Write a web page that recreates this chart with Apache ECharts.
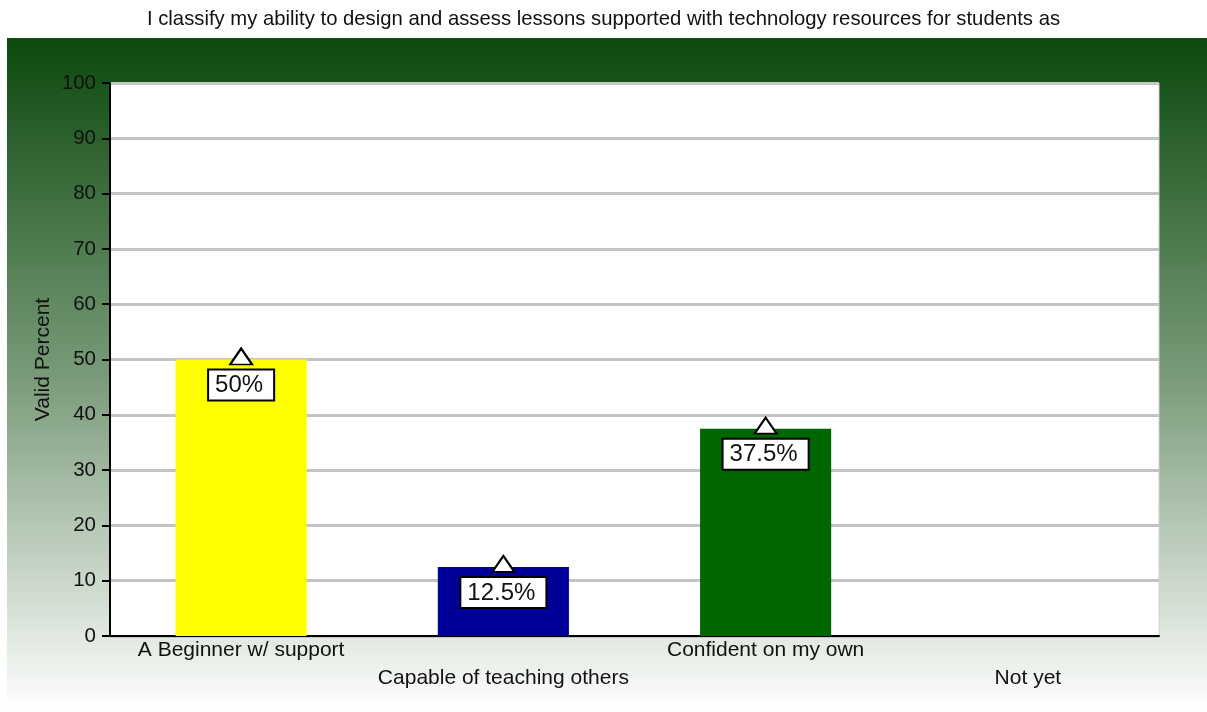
<!DOCTYPE html>
<html>
<head>
<meta charset="utf-8">
<script src="https://cdn.jsdelivr.net/npm/echarts@6/dist/echarts.min.js"></script>
<style>html,body{margin:0;padding:0;background:#fff;}#c{width:1207px;height:712px;}</style>
</head>
<body>
<div id="c"></div>
<script>
const titleText = "I classify my ability to design and assess lessons supported with technology resources for students as";
const categories = ["A Beginner w/ support", "Capable of teaching others", "Confident on my own", "Not yet"];
const values = [50, 12.5, 37.5, 0];
const barColors = ["#ffff00", "#000099", "#006600", "#888888"];
const yTicks = [0, 10, 20, 30, 40, 50, 60, 70, 80, 90, 100];
const yName = "Valid Percent";

const chart = echarts.init(document.getElementById('c'));
const font = "'Liberation Sans', Arial, sans-serif";
chart.setOption({
  animation: false,
  backgroundColor: '#ffffff',
  title: {
    text: titleText, left: 'center', top: 4,
    textStyle: { fontFamily: font, fontSize: 20.3, fontWeight: 'normal', color: '#111' }
  },
  graphic: [{
    type: 'rect', silent: true, z: -10,
    shape: { x: 7, y: 38, width: 1200, height: 674 },
    style: {
      fill: new echarts.graphic.LinearGradient(0, 0, 0, 1, [
        { offset: 0, color: '#0b490d' },
        { offset: 0.5, color: '#799a79' },
        { offset: 1, color: '#ffffff' }
      ])
    }
  }],
  grid: {
    left: 110, right: 48, top: 83, bottom: 76,
    show: true, backgroundColor: '#ffffff', borderWidth: 1, borderColor: '#d0d0d0'
  },
  xAxis: {
    type: 'category', data: categories,
    axisLine: { lineStyle: { color: '#000', width: 2 } },
    axisTick: { show: false },
    axisLabel: {
      interval: 0, margin: 0, fontFamily: font, fontSize: 21, color: '#111', lineHeight: 28,
      formatter: (v, i) => (i % 2 === 1 ? '\n' + v : v)
    }
  },
  yAxis: {
    type: 'value', min: yTicks[0], max: yTicks[yTicks.length - 1], interval: 10,
    name: yName, nameLocation: 'middle', nameGap: 56, nameMoveOverlap: false,
    nameTextStyle: { fontFamily: font, fontSize: 21, color: '#111' },
    axisLine: { show: true, lineStyle: { color: '#000', width: 2 } },
    axisTick: { show: true, length: 8, lineStyle: { color: '#000', width: 2 } },
    axisLabel: { fontFamily: font, fontSize: 20.5, color: '#111', margin: 14 },
    splitLine: { lineStyle: { color: '#c4c4c4', width: 3 } }
  },
  series: [{
    type: 'bar', barWidth: '50%',
    data: values.map((v, i) => ({ value: v, itemStyle: { color: barColors[i] }, label: { show: v > 0 } })),
    label: {
      show: true, position: 'insideTop', distance: 11,
      formatter: p => p.value + '%',
      fontFamily: font, fontSize: 24, color: '#111',
      backgroundColor: '#ffffff', borderColor: '#000', borderWidth: 2,
      padding: [3, 10, 2, 6]
    }
  }, {
    type: 'scatter', symbol: 'triangle', symbolSize: [22, 16], symbolOffset: [0, -3], z: 5,
    itemStyle: { color: '#ffffff', borderColor: '#000', borderWidth: 2, opacity: 1 },
    data: values.map(v => (v ? v : '-'))
  }]
});
</script>
</body>
</html>
